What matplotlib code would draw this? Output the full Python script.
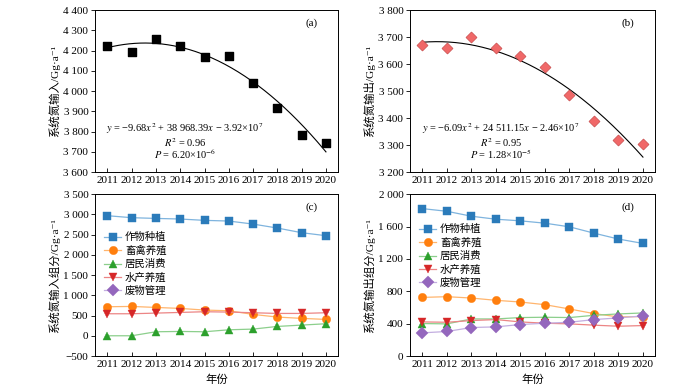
import numpy as np
import matplotlib
matplotlib.use('Agg')
import matplotlib.pyplot as plt
from matplotlib.ticker import FuncFormatter

plt.rcParams['font.family'] = ['Liberation Serif', 'Noto Sans CJK SC', 'DejaVu Serif']
plt.rcParams['axes.unicode_minus'] = True
plt.rcParams['mathtext.fontset'] = 'stix'

years = np.arange(2011, 2021)

# 系统氮输入 / 输出 总量
n_input = [4225, 4195, 4258, 4225, 4168, 4173, 4040, 3918, 3785, 3745]
n_output = [3670, 3660, 3702, 3660, 3630, 3590, 3485, 3390, 3318, 3305]

# 分组分
names = ['作物种植', '畜禽养殖', '居民消费', '水产养殖', '废物管理']
in_crop = [2967, 2918, 2900, 2885, 2852, 2835, 2760, 2662, 2547, 2473]
in_livestock = [717, 725, 700, 676, 635, 618, 528, 462, 430, 404]
in_resident = [0, 0, 99, 107, 99, 148, 165, 231, 264, 297]
in_aqua = [544, 544, 560, 577, 594, 585, 569, 552, 552, 569]
in_waste = [np.nan] * 10

out_crop = [1821, 1788, 1727, 1690, 1670, 1641, 1596, 1518, 1445, 1391]
out_livestock = [724, 733, 716, 688, 667, 634, 581, 524, 483, 487]
out_resident = [401, 397, 458, 458, 475, 479, 475, 503, 520, 532]
out_aqua = [421, 417, 438, 450, 421, 405, 397, 381, 368, 376]
out_waste = [286, 303, 352, 360, 389, 405, 417, 450, 471, 495]

mk_colors = ['#2b7bba', '#ff7f0e', '#2ca02c', '#d62728', '#9467bd']
ln_colors = ['#7fb4de', '#ffb56e', '#8ccf8c', '#ec8585', '#c3aee0']
markers = ['s', 'o', '^', 'v', 'D']

fig = plt.figure(figsize=(7, 3.91), dpi=100)
ax_a = fig.add_axes([0.136, 0.560, 0.347, 0.414])
ax_b = fig.add_axes([0.586, 0.560, 0.350, 0.414])
ax_c = fig.add_axes([0.136, 0.0895, 0.347, 0.414])
ax_d = fig.add_axes([0.586, 0.0895, 0.350, 0.414])

fmt = FuncFormatter(lambda v, p: ('{:,.0f}'.format(v)).replace(',', ' ').replace('-', '\u2212'))
fs = 8
lfs = 7.5
yfs = 8.2
efs = 7.5

def style(ax, lo, hi, step):
    ax.set_xlim(2010.5, 2020.5)
    ax.set_xticks(years)
    ax.set_ylim(lo, hi)
    ax.set_yticks(np.arange(lo, hi + 1, step))
    ax.yaxis.set_major_formatter(fmt)
    ax.tick_params(axis='x', direction='in', length=3, width=0.6, labelsize=fs, pad=3)
    ax.tick_params(axis='y', direction='out', length=3, width=0.6, labelsize=fs, pad=2)
    for s in ax.spines.values():
        s.set_linewidth(0.7)

def equation(ax, lines):
    for (txt, yy) in zip(lines, [0.27, 0.185, 0.11]):
        ax.text(0.37, yy, txt, transform=ax.transAxes, fontsize=efs, ha='center', va='center')

# (a)
ax_a.scatter(years, n_input, marker='s', s=32, color='black', zorder=3)
xx = np.linspace(2011, 2020, 200)
ca = np.polyfit(years - 2015, n_input, 2)
ax_a.plot(xx, np.polyval(ca, xx - 2015), color='black', lw=0.8)
style(ax_a, 3600, 4400, 100)
ax_a.set_ylabel('系统氮输入/Gg·a\u207b\u00b9', fontsize=yfs, labelpad=2)
ax_a.text(0.89, 0.92, '(a)', transform=ax_a.transAxes, fontsize=fs, ha='center', va='center')
equation(ax_a, ['$y$ = −9.68$x^2$ + 38 968.39$x$ − 3.92×10$^7$',
                '$R^2$ = 0.96', '$P$ = 6.20×10$^{-6}$'])

# (b)
ax_b.scatter(years, n_output, marker='D', s=32, color='#f06868', edgecolor='#c04040', linewidth=0.4, zorder=3)
cb = np.polyfit(years - 2015, n_output, 2)
ax_b.plot(xx, np.polyval(cb, xx - 2015), color='black', lw=0.8)
style(ax_b, 3200, 3800, 100)
ax_b.set_ylabel('系统氮输出/Gg·a\u207b\u00b9', fontsize=yfs, labelpad=2)
ax_b.text(0.89, 0.92, '(b)', transform=ax_b.transAxes, fontsize=fs, ha='center', va='center')
equation(ax_b, ['$y$ = −6.09$x^2$ + 24 511.15$x$ − 2.46×10$^7$',
                '$R^2$ = 0.95', '$P$ = 1.28×10$^{-5}$'])

# (c)
c_series = [in_crop, in_livestock, in_resident, in_aqua, in_waste]
for vals, name, mc, lc, m in zip(c_series, names, mk_colors, ln_colors, markers):
    ax_c.plot(years, vals, color=lc, lw=0.9, marker=m, markersize=6, markerfacecolor=mc,
              markeredgecolor=mc, markeredgewidth=0.3, label=name)
style(ax_c, -500, 3500, 500)
ax_c.set_ylabel('系统氮输入组分/Gg·a\u207b\u00b9', fontsize=yfs, labelpad=2)
ax_c.set_xlabel('年份', fontsize=yfs, labelpad=4)
ax_c.text(0.89, 0.92, '(c)', transform=ax_c.transAxes, fontsize=fs, ha='center', va='center')
ax_c.legend(loc='upper left', bbox_to_anchor=(0.02, 0.79), frameon=False, fontsize=lfs,
            handlelength=1.6, handletextpad=0.4, labelspacing=0.3, borderaxespad=0)

# (d)
d_series = [out_crop, out_livestock, out_resident, out_aqua, out_waste]
for vals, name, mc, lc, m in zip(d_series, names, mk_colors, ln_colors, markers):
    ax_d.plot(years, vals, color=lc, lw=0.9, marker=m, markersize=6, markerfacecolor=mc,
              markeredgecolor=mc, markeredgewidth=0.3, label=name)
style(ax_d, 0, 2000, 400)
ax_d.set_ylabel('系统氮输出组分/Gg·a\u207b\u00b9', fontsize=yfs, labelpad=2)
ax_d.set_xlabel('年份', fontsize=yfs, labelpad=4)
ax_d.text(0.89, 0.92, '(d)', transform=ax_d.transAxes, fontsize=fs, ha='center', va='center')
ax_d.legend(loc='upper left', bbox_to_anchor=(0.02, 0.84), frameon=False, fontsize=lfs,
            handlelength=1.6, handletextpad=0.4, labelspacing=0.3, borderaxespad=0)

fig.savefig('out.png', dpi=100)
